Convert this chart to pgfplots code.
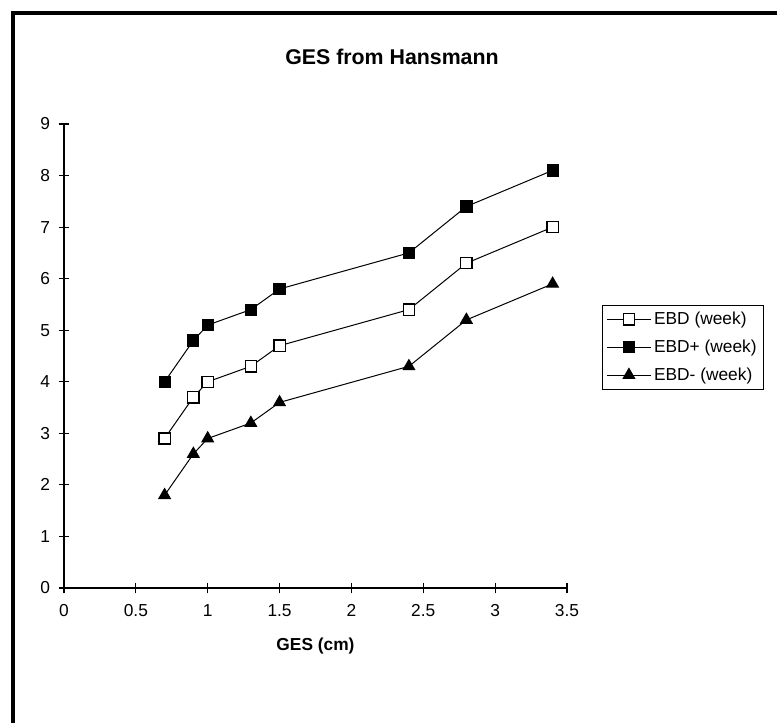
\documentclass[border=0pt]{standalone}
\usepackage{pgfplots}
\pgfplotsset{compat=1.18}
\usepackage{fontspec}
\setmainfont{Liberation Sans}
\begin{document}
\begin{tikzpicture}[x=0.75pt,y=0.75pt]
\useasboundingbox (0,0) rectangle (777,722);
\draw[line width=3pt] (13,709) rectangle (800,-30);
\node[font=\bfseries\fontsize{16}{18}\selectfont] at (392,665) {GES from Hansmann};
\begin{axis}[
  at={(48pt,100.5pt)}, anchor=south west,
  scale only axis, width=377.25pt, height=348pt,
  xmin=0, xmax=3.5, ymin=0, ymax=9,
  xtick={0,0.5,1,1.5,2,2.5,3,3.5},
  xticklabels={0,0.5,1,1.5,2,2.5,3,3.5},
  ytick={0,1,2,3,4,5,6,7,8,9},
  axis lines*=left,
  tick align=center,
  major tick length=8pt,
  tick style={black, line width=0.8pt},
  axis line style={black, line width=0.8pt},
  /pgf/number format/assume math mode=true,
  ticklabel style={font=\fontsize{13}{15}\selectfont},
  xticklabel style={yshift=-5pt},
  yticklabel style={xshift=-3pt},
  xlabel={GES (cm)},
  xlabel style={font=\bfseries\fontsize{13}{15}\selectfont, at={(axis description cs:0.5,-0.124)}, anchor=center},
  clip=false,
  legend style={at={(axis description cs:1.0696,0.610)}, anchor=north west,
    draw=black, line width=0.6pt, font=\fontsize{13}{15}\selectfont,
    inner sep=3pt, row sep=6pt, cells={anchor=west}},
  legend cell align=left,
  legend image code/.code={\draw[mark repeat=2,mark phase=2,#1] plot coordinates {(0cm,0cm) (0.58cm,0cm) (1.16cm,0cm)};},
]
\addplot[black, line width=0.75pt, mark=square*, mark size=4.2pt, mark options={fill=white, line width=1pt}] coordinates {
(0.7,2.9) (0.9,3.7) (1.0,4.0) (1.3,4.3) (1.5,4.7) (2.4,5.4) (2.8,6.3) (3.4,7.0)};
\addlegendentry{EBD (week)}
\addplot[black, line width=0.75pt, mark=square*, mark size=4.2pt, mark options={fill=black}] coordinates {
(0.7,4.0) (0.9,4.8) (1.0,5.1) (1.3,5.4) (1.5,5.8) (2.4,6.5) (2.8,7.4) (3.4,8.1)};
\addlegendentry{EBD+ (week)}
\addplot[black, line width=0.75pt, mark=triangle*, mark size=5pt, mark options={fill=black}] coordinates {
(0.7,1.8) (0.9,2.6) (1.0,2.9) (1.3,3.2) (1.5,3.6) (2.4,4.3) (2.8,5.2) (3.4,5.9)};
\addlegendentry{EBD- (week)}
\end{axis}
\end{tikzpicture}
\end{document}
